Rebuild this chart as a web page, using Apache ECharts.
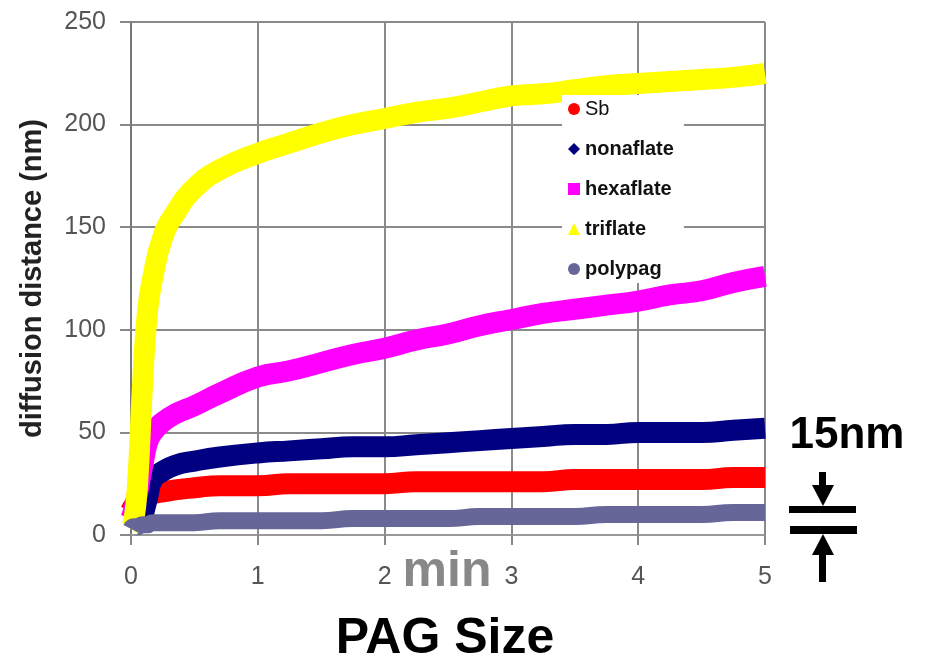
<!DOCTYPE html>
<html>
<head>
<meta charset="utf-8">
<script src="https://cdn.jsdelivr.net/npm/echarts@6/dist/echarts.min.js"></script>
<style>
html,body{margin:0;padding:0;background:#fff;}
#chart{width:927px;height:665px;}
</style>
</head>
<body>
<div id="chart"></div>
<script>
// time (min)
var time = [0, 0.02, 0.05, 0.09, 0.13, 0.17, 0.25, 0.35, 0.5, 0.7, 1, 1.25, 1.5, 1.75, 2, 2.25, 2.5, 2.75, 3, 3.25, 3.5, 3.75, 4, 4.25, 4.5, 4.75, 5];
// diffusion distance (nm)
var sb        = [12, 14, 15, 16, 18, 20, 21, 22, 23, 24, 24, 25, 25, 25, 25, 26, 26, 26, 26, 26, 27, 27, 27, 27, 27, 28, 28];
var nonaflate = [null, null, null, 8, 18, 27, 31, 34, 36, 38, 40, 41, 42, 43, 43, 44, 45, 46, 47, 48, 49, 49, 50, 50, 50, 51, 52];
var hexaflate = [8, 12, 20, 33, 45, 50, 55, 59, 63, 69, 77, 80, 84, 88, 91, 95, 98, 102, 105, 108, 110, 112, 114, 117, 119, 123, 126];
var triflate  = [3, 6, 23, 72, 109, 125, 145, 157, 169, 178, 186, 191, 196, 200, 203, 206, 208, 211, 214, 215, 217, 219, 220, 221, 222, 223, 225];
var polypag   = [3, 4, 4, 5, 5, 6, 6, 6, 6, 7, 7, 7, 7, 8, 8, 8, 8, 9, 9, 9, 9, 10, 10, 10, 10, 11, 11];

var seriesNames = ['Sb', 'nonaflate', 'hexaflate', 'triflate', 'polypag'];
var seriesValues = [sb, nonaflate, hexaflate, triflate, polypag];
var seriesColors = ['#ff0000', '#000080', '#ff00ff', '#ffff00', '#666699'];
var seriesIcons = ['circle', 'diamond', 'rect', 'triangle', 'circle'];
var seriesWidths = [21, 21, 21, 21, 17];

var xTicks = { min: 0, max: 5, interval: 1 };
var yTicks = { min: 0, max: 250, interval: 50 };

var FONT = '"Liberation Sans", Arial, sans-serif';

function pairs(vals) {
  return time.map(function (t, i) { return [t, vals[i]]; });
}

var series = seriesNames.map(function (name, i) {
  return {
    name: name,
    type: 'line',
    data: pairs(seriesValues[i]),
    symbol: seriesIcons[i],
    showSymbol: false,
    smooth: 0.5,
    clip: false,
    connectNulls: false,
    itemStyle: { color: seriesColors[i] },
    lineStyle: { color: seriesColors[i], width: seriesWidths[i], join: 'round' },
    emphasis: { disabled: true },
    animation: false
  };
});

var chart = echarts.init(document.getElementById('chart'), null, { renderer: 'canvas' });
chart.setOption({
  backgroundColor: '#ffffff',
  animation: false,
  grid: { left: 131, right: 162, top: 22, bottom: 130, containLabel: false },
  xAxis: {
    type: 'value',
    min: xTicks.min, max: xTicks.max, interval: xTicks.interval,
    axisLine: { show: true, lineStyle: { color: '#999', width: 2 } },
    axisTick: { show: true, length: 10, lineStyle: { color: '#888', width: 2 } },
    splitLine: { show: true, lineStyle: { color: '#8a8a8a', width: 2 } },
    axisLabel: { fontSize: 25, color: '#555', fontFamily: FONT, margin: 30 }
  },
  yAxis: {
    type: 'value',
    min: yTicks.min, max: yTicks.max, interval: yTicks.interval,
    name: 'diffusion distance (nm)',
    nameLocation: 'middle',
    nameGap: 84,
    nameTextStyle: { fontSize: 29, fontWeight: 'bold', color: '#222', fontFamily: FONT },
    axisLine: { show: true, lineStyle: { color: '#777', width: 2 } },
    axisTick: { show: true, length: 11, lineStyle: { color: '#888', width: 2 } },
    splitLine: { show: true, lineStyle: { color: '#8a8a8a', width: 2 } },
    axisLabel: { fontSize: 25, color: '#555', fontFamily: FONT, margin: 25 }
  },
  legend: {
    orient: 'vertical',
    left: 562,
    top: 95,
    padding: [4, 10, 4, 6],
    backgroundColor: '#ffffff',
    itemWidth: 12,
    itemHeight: 12,
    itemGap: 20,
    z: 10,
    selectedMode: false,
    itemStyle: { borderWidth: 0 },
    textStyle: { fontSize: 20, fontWeight: 'bold', color: '#111', fontFamily: FONT, lineHeight: 20 },
    data: seriesNames.map(function (n, i) {
      var d = { name: n, icon: seriesIcons[i] };
      if (n === 'Sb') d.textStyle = { fontWeight: 'normal' };
      return d;
    })
  },
  graphic: [
    { type: 'text', z: 20, style: { text: 'min', x: 447, y: 572, align: 'center', verticalAlign: 'middle', font: 'bold 50px ' + FONT, fill: '#888888' } },
    { type: 'text', z: 20, style: { text: 'PAG Size', x: 445, y: 639, align: 'center', verticalAlign: 'middle', font: 'bold 50px ' + FONT, fill: '#000000' } },
    { type: 'text', z: 20, style: { text: '15nm', x: 847, y: 436, align: 'center', verticalAlign: 'middle', font: 'bold 44px ' + FONT, fill: '#000000' } },
    { type: 'rect', z: 20, shape: { x: 789, y: 506, width: 67, height: 7 }, style: { fill: '#000' } },
    { type: 'rect', z: 20, shape: { x: 790, y: 526, width: 67, height: 8 }, style: { fill: '#000' } },
    { type: 'rect', z: 20, shape: { x: 819, y: 472, width: 7, height: 15 }, style: { fill: '#000' } },
    { type: 'polygon', z: 20, shape: { points: [[812, 485], [834, 485], [823, 506]] }, style: { fill: '#000' } },
    { type: 'polygon', z: 20, shape: { points: [[812, 555], [834, 555], [823, 534]] }, style: { fill: '#000' } },
    { type: 'rect', z: 20, shape: { x: 819, y: 553, width: 7, height: 29 }, style: { fill: '#000' } }
  ],
  series: series
});
</script>
</body>
</html>
